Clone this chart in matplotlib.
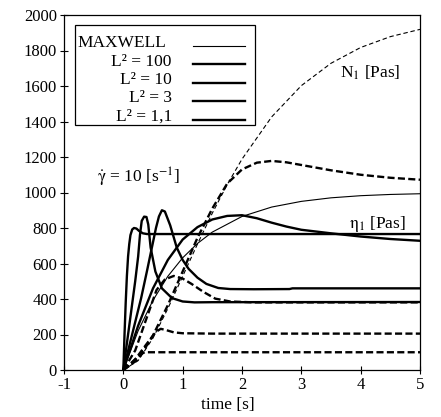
import matplotlib
matplotlib.use("Agg")
import matplotlib.pyplot as plt
from matplotlib.lines import Line2D
from matplotlib.patches import Rectangle

plt.rcParams['font.family'] = ['Liberation Serif', 'DejaVu Serif']
plt.rcParams['mathtext.fontset'] = 'stix'
plt.rcParams['axes.unicode_minus'] = False

# ---- data ----
# shear viscosity eta_1 [Pas]
t_max_eta = [0, 0.25, 0.5, 0.75, 1.0, 1.25, 1.5, 2.0, 2.5, 3.0, 3.5, 4.0, 4.5, 5.0]
eta_maxwell = [0, 221, 393, 528, 632, 713, 777, 865, 918, 950, 970, 982, 989, 993]

t_A = [0, 0.02, 0.04, 0.06, 0.08, 0.10, 0.12, 0.15, 0.18, 0.22, 0.27, 0.33, 0.4, 1.0, 5.0]
eta_A = [0, 200, 380, 530, 640, 710, 760, 792, 800, 797, 782, 770, 766, 766, 766]

t_B = [0, 0.1, 0.2, 0.25, 0.28, 0.31, 0.35, 0.39, 0.42, 0.46, 0.54, 0.65, 0.82, 1.0, 1.2, 1.5, 5.0]
eta_B = [0, 250, 500, 640, 760, 840, 864, 862, 820, 690, 555, 460, 405, 386, 381, 382, 383]

t_C = [0, 0.1, 0.2, 0.3, 0.4, 0.5, 0.55, 0.6, 0.65, 0.7, 0.79, 0.9, 1.0, 1.1, 1.25, 1.4, 1.6, 1.8, 2.2, 2.8, 2.85, 5.0]
eta_C = [0, 135, 270, 405, 560, 720, 800, 865, 900, 893, 815, 690, 620, 570, 520, 485, 462, 456, 455, 456, 460, 460]

t_D = [0, 0.25, 0.5, 0.75, 1.0, 1.25, 1.5, 1.75, 2.0, 2.25, 2.5, 2.75, 3.0, 3.5, 4.0, 4.5, 5.0]
eta_D = [0, 250, 460, 620, 735, 805, 848, 868, 872, 855, 830, 808, 790, 770, 752, 738, 728]

# first normal stress coefficient N_1 [Pas]
t_max_n1 = [0, 0.25, 0.5, 0.75, 1.0, 1.25, 1.5, 1.75, 2.0, 2.5, 3.0, 3.5, 4.0, 4.5, 5.0]
n1_maxwell = [0, 53, 180, 346, 528, 710, 884, 1044, 1188, 1426, 1602, 1728, 1817, 1878, 1919]

t_E = [0, 0.25, 0.5, 0.75, 1.0, 1.25, 1.5, 1.75, 2.0, 2.25, 2.5, 2.75, 3.0, 3.5, 4.0, 4.5, 5.0]
n1_E = [0, 60, 195, 365, 555, 745, 910, 1050, 1130, 1168, 1178, 1170, 1155, 1125, 1100, 1083, 1072]

t_F = [0, 0.2, 0.4, 0.56, 0.7, 0.85, 1.0, 1.15, 1.35, 1.55, 1.8, 2.2, 5.0]
n1_F = [0, 110, 300, 451, 510, 530, 515, 485, 440, 402, 386, 381, 381]

t_G = [0, 0.2, 0.4, 0.55, 0.63, 0.72, 0.85, 1.0, 1.5, 5.0]
n1_G = [0, 60, 150, 215, 232, 225, 212, 207, 205, 205]

t_H = [0, 0.1, 0.2, 0.3, 0.36, 0.45, 5.0]
n1_H = [0, 25, 60, 90, 100, 100, 100]

legend_labels = ['MAXWELL', 'L² = 100', 'L² = 10', 'L² = 3', 'L² = 1,1']
x_ticks = [-1, 0, 1, 2, 3, 4, 5]
y_ticks = list(range(0, 2001, 200))

# ---- figure ----
fig = plt.figure(figsize=(4.41, 4.17), dpi=100)
ax = fig.add_axes([64/441, 47/417, 356/441, 355/417])

FS = 12.5
thin = 0.8
thick = 1.7
ax.plot(t_max_eta, eta_maxwell, color='black', lw=thin)
for t, v in [(t_A, eta_A), (t_B, eta_B), (t_C, eta_C), (t_D, eta_D)]:
    ax.plot(t, v, color='black', lw=thick)
ax.plot(t_max_n1, n1_maxwell, color='black', lw=thin, dashes=(4.0, 2.5))
for t, v in [(t_E, n1_E), (t_F, n1_F), (t_G, n1_G), (t_H, n1_H)]:
    ax.plot(t, v, color='black', lw=thick, dashes=(3.0, 1.4))

ax.set_xlim(-1, 5)
ax.set_ylim(0, 2000)
ax.set_xticks(x_ticks)
ax.set_yticks(y_ticks)
ax.set_xticklabels([str(v) for v in x_ticks])
ax.set_yticklabels([str(v) for v in y_ticks])
ax.tick_params(axis='both', direction='inout', length=6, width=0.8, labelsize=12, pad=2)
for s in ax.spines.values():
    s.set_linewidth(0.9)
ax.set_xlabel('time [s]', fontsize=FS)
ax.xaxis.set_label_coords(0.46, -0.075)

# annotations
ax.text(4.28, 822, r'$\mathrm{\eta}_1$ [Pas]', fontsize=FS, ha='center', va='center')
ax.text(4.16, 1673, r'N$_1$ [Pas]', fontsize=FS, ha='center', va='center')
ax.text(0.26, 1087, r'$\dot{\mathrm{\gamma}}$ = 10 [s$^{\mathrm{-1}}$]', fontsize=FS, ha='center', va='center')

# legend box (manual)
tr = ax.transAxes
ax.add_patch(Rectangle((0.031, 0.690), 0.506, 0.282, transform=tr, fill=False, lw=0.9, ec='black'))
rows_y = [0.921, 0.869, 0.817, 0.765, 0.713]
for i, (lab, yy) in enumerate(zip(legend_labels, rows_y)):
    if i == 0:
        ax.text(0.039, yy, lab, transform=tr, fontsize=FS, ha='left', va='center')
    else:
        ax.text(0.303, yy, lab, transform=tr, fontsize=FS, ha='right', va='center')
    ax.add_line(Line2D([0.362, 0.508], [yy - 0.008, yy - 0.008], transform=tr, color='black',
                       lw=thin if i == 0 else thick))

fig.savefig('out.png', dpi=100)
